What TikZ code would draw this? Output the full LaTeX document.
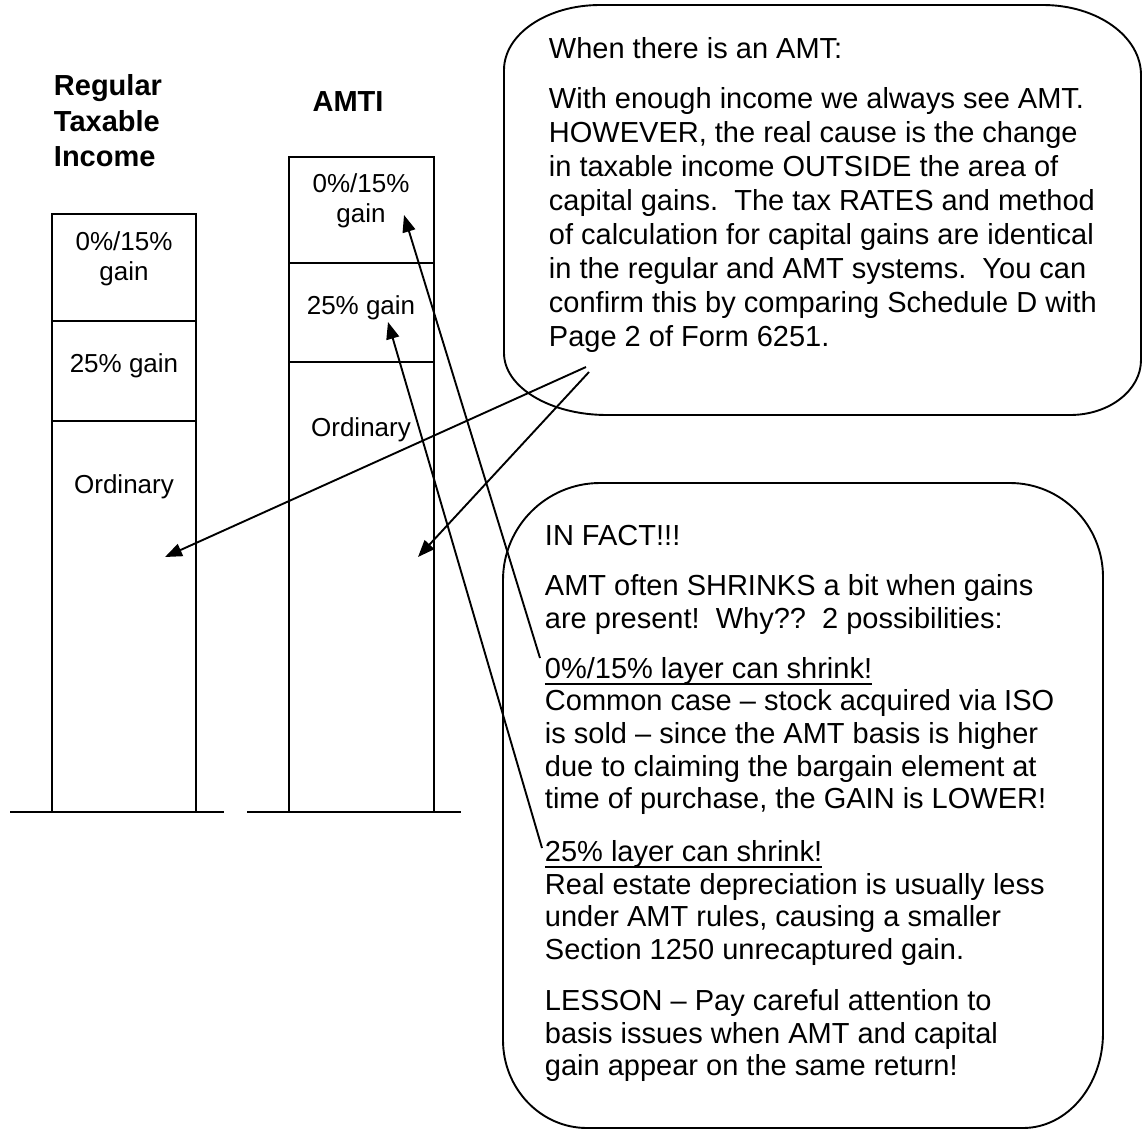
\documentclass[tikz,border=0pt]{standalone}
\usepackage{fontspec}
\setmainfont{Liberation Sans}
\usetikzlibrary{arrows.meta}
\newcommand\myul[1]{\leavevmode\setbox0\hbox{#1}\rlap{\rule[-6.5pt]{\wd0}{1.6pt}}\box0}
\begin{document}
\begin{tikzpicture}[x=1pt,y=1pt,line width=1.9pt,
  callarrow/.style={line width=1.9pt,-{Triangle[length=17pt,width=13pt]}},
  bodytext/.style={inner sep=0pt,align=left,anchor=north west,font=\fontsize{29}{33.9}\selectfont},
  bodytexttwo/.style={inner sep=0pt,align=left,anchor=north west,font=\fontsize{29}{32.7}\selectfont},
  collabel/.style={inner sep=0pt,anchor=base,font=\fontsize{26}{30}\selectfont},
  headlabel/.style={inner sep=0pt,font=\bfseries\fontsize{29}{35}\selectfont}]
\fill[white] (0,0) rectangle (1143,-1130);
\useasboundingbox (0,0) rectangle (1143,-1130);

% columns
\draw (52,-214) rectangle (196,-812);
\draw (52,-321) -- (196,-321);
\draw (52,-421) -- (196,-421);
\draw (289,-157) rectangle (434,-812);
\draw (289,-263) -- (434,-263);
\draw (289,-362) -- (434,-362);
\draw (10,-812) -- (224,-812);
\draw (247,-812) -- (461,-812);

% headings
\node[headlabel,anchor=base west] (h1) at (53,-95) {Regular};
\node[headlabel,anchor=base west] (h2) at (53,-131) {Taxable};
\node[headlabel,anchor=base west] (h3) at (53,-166) {Income};
\node[headlabel,anchor=base] (h4) at (348,-111) {AMTI};

% column labels
\node[collabel] (r1) at (124,-250) {0\%/15\%};
\node[collabel] (r2) at (124,-280) {gain};
\node[collabel] (r3) at (124,-372) {25\% gain};
\node[collabel] (r4) at (124,-493) {Ordinary};
\node[collabel] (a1) at (361,-192) {0\%/15\%};
\node[collabel] (a2) at (361,-222) {gain};
\node[collabel] (a3) at (361,-314) {25\% gain};
\node[collabel] (a4) at (361,-436) {Ordinary};

% callout 1
\draw (504,-70) arc[start angle=180,end angle=90,x radius=96pt,y radius=65pt]
  -- (1043,-5) arc[start angle=90,end angle=0,x radius=98pt,y radius=70pt]
  -- (1141,-360) arc[start angle=0,end angle=-90,x radius=71pt,y radius=55pt]
  -- (607,-415) arc[start angle=270,end angle=180,x radius=103pt,y radius=62pt]
  -- cycle;
\node[bodytext] (c1) at (548,-28) {\rule{0pt}{30pt}When there is an AMT:\\[16pt]
With enough income we always see AMT.\\
HOWEVER, the real cause is the change\\
in taxable income OUTSIDE the area of\\
capital gains.\ \ The tax RATES and method\\
of calculation for capital gains are identical\\
in the regular and AMT systems.\ \ You can\\
confirm this by comparing Schedule D with\\
Page 2 of Form 6251.};

% callout 2
\draw (503,-580) arc[start angle=180,end angle=90,x radius=97pt,y radius=97pt]
  -- (1010,-483) arc[start angle=90,end angle=0,x radius=93pt,y radius=94pt]
  -- (1103,-1033) arc[start angle=0,end angle=-90,x radius=80pt,y radius=95pt]
  -- (587,-1128) arc[start angle=270,end angle=180,x radius=84pt,y radius=88pt]
  -- cycle;
\node[bodytexttwo] (c2) at (544,-515) {\rule{0pt}{30pt}IN FACT!!!\\[17pt]
AMT often SHRINKS a bit when gains\\
are present!\ \ Why??\ \ 2 possibilities:\\[17pt]
\myul{0\%/15\% layer can shrink!}\\
Common case – stock acquired via ISO\\
is sold – since the AMT basis is higher\\
due to claiming the bargain element at\\
time of purchase, the GAIN is LOWER!\\[20pt]
\myul{25\% layer can shrink!}\\
Real estate depreciation is usually less\\
under AMT rules, causing a smaller\\
Section 1250 unrecaptured gain.\\[18pt]
LESSON – Pay careful attention to\\
basis issues when AMT and capital\\
gain appear on the same return!};

% connectors
\coordinate (p1) at (586,-367);
\coordinate (p2) at (589,-372);
\coordinate (t1) at (165,-557);
\coordinate (t2) at (418,-557);
\coordinate (s3) at (540,-658);
\coordinate (t3) at (404,-215);
\coordinate (s4) at (542,-848);
\coordinate (t4) at (388,-322);
\draw[callarrow] (p1) -- (t1);
\draw[callarrow] (p2) -- (t2);
\draw[callarrow] (s3) -- (t3);
\draw[callarrow] (s4) -- (t4);
\end{tikzpicture}
\end{document}
